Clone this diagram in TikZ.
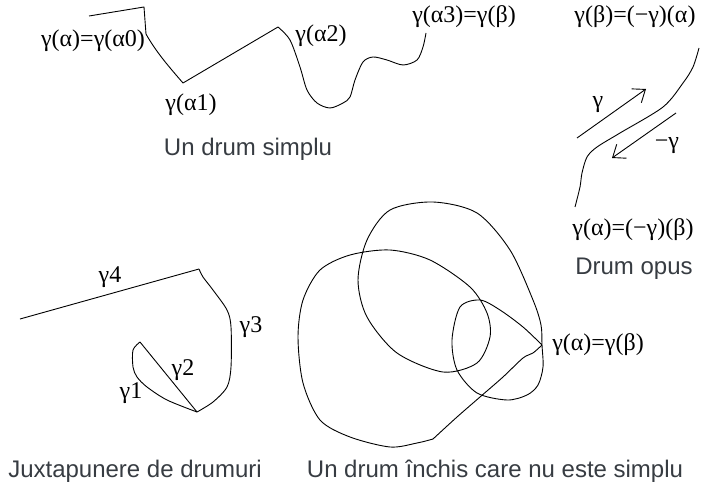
\documentclass[tikz,border=0pt]{standalone}
\usepackage{fontspec}
\setmainfont{Liberation Serif}
\newfontfamily\capfont{Liberation Sans}
\usetikzlibrary{arrows.meta}
\definecolor{capgray}{RGB}{55,60,66}
\tikzset{
  curve/.style={line width=0.9pt, line join=round},
  lbl/.style={inner sep=0pt, font=\fontsize{24}{28}\selectfont},
  capt/.style={inner sep=0pt, anchor=base, text=capgray, font=\capfont\fontsize{24}{28}\selectfont},
  dirarrow/.style={line width=0.9pt, -{Straight Barb[length=11pt,width=17pt]}},
}

\begin{document}
\begin{tikzpicture}[x=1pt, y=-1pt]
\useasboundingbox (0,0) rectangle (701,489);

% simple path
\coordinate (s0) at (89,16);
\coordinate (a0) at (144,7);
\coordinate (a1) at (183,83);
\coordinate (a2) at (278,27);
\coordinate (a3) at (426,33);
\draw[curve] (s0) -- (a0) -- (146,34) .. controls (156,52) and (170,68) .. (a1) -- (a2);
\draw[curve] plot[smooth] coordinates {(a2) (290,40) (300,67) (307,90) (317,103) (330,108)
  (343,103) (350,97) (355,80) (363,62) (373,57) (387,60) (403,65) (417,60) (423,47) (a3)};

\node[lbl] (la0) at (93,41) {γ(α)=γ(α0)};
\node[lbl] (la1) at (191,105) {γ(α1)};
\node[lbl] (la2) at (321,36) {γ(α2)};
\node[lbl] (la3) at (464,17) {γ(α3)=γ(β)};
\node[capt] (csimple) at (248,156) {Un drum simplu};

% opposite path
\coordinate (ob) at (699,48);
\coordinate (oa) at (575,207);
\draw[curve] plot[smooth] coordinates {(ob) (693,67) (683,83) (663,107) (620,133) (597,147)
  (587,157) (582,173) (580,187) (oa)};
\coordinate (gs) at (577,138);
\coordinate (ge) at (646,89);
\coordinate (ns) at (676,113);
\coordinate (ne) at (612,158);
\draw[dirarrow] (gs) -- (ge);
\draw[dirarrow] (ns) -- (ne);

\node[lbl] (lb) at (635,17) {γ(β)=(−γ)(α)};
\node[lbl] (lg) at (598,105) {γ};
\node[lbl] (lng) at (667,146) {−γ};
\node[lbl] (la) at (633,230) {γ(α)=(−γ)(β)};
\node[capt] (copus) at (634,274) {Drum opus};

% juxtaposition
\coordinate (j0) at (20,319);
\coordinate (j1) at (199,269);
\coordinate (j2) at (197,412);
\coordinate (j3) at (140,342);
\draw[curve] (j0) -- (j1);
\draw[curve] plot[smooth] coordinates {(j1) (203,277) (213,290) (227,310) (231,327) (231,367)
  (227,387) (213,402) (j2)};
\draw[curve] (j2) -- (j3);
\draw[curve] plot[smooth] coordinates {(j3) (133,350) (133,367) (137,377) (147,387) (167,400) (j2)};

\node[lbl] (g4) at (110,277) {γ4};
\node[lbl] (g3) at (251,327) {γ3};
\node[lbl] (g2) at (183,370) {γ2};
\node[lbl] (g1) at (131,393) {γ1};
\node[capt] (cjux) at (135,477) {Juxtapunere de drumuri};

% closed path, not simple
\coordinate (c) at (542,345);
\coordinate (h) at (433,439);
\draw[curve] plot[smooth] coordinates {(c) (523,327) (500,310) (480,300) (460,307) (452,340)
  (457,370) (477,393) (507,400) (527,395) (538,385) (543,367) (c) (541,325) (533,300)
  (510,250) (477,213) (433,202) (390,210) (367,240) (358,280) (367,317) (397,353) (443,372)
  (477,363) (490,337) (487,313) (470,287) (430,260) (390,250) (350,255) (320,270) (303,300)
  (298,337) (303,383) (320,420) (350,437) (390,447) (417,443) (h)};
\draw[curve] plot[smooth] coordinates {(h) (457,417) (480,397) (503,377) (523,358) (533,353) (c)};

\node[lbl] (lab) at (598,345) {γ(α)=γ(β)};
\node[capt] (cclosed) at (495,477) {Un drum închis care nu este simplu};
\end{tikzpicture}
\end{document}
